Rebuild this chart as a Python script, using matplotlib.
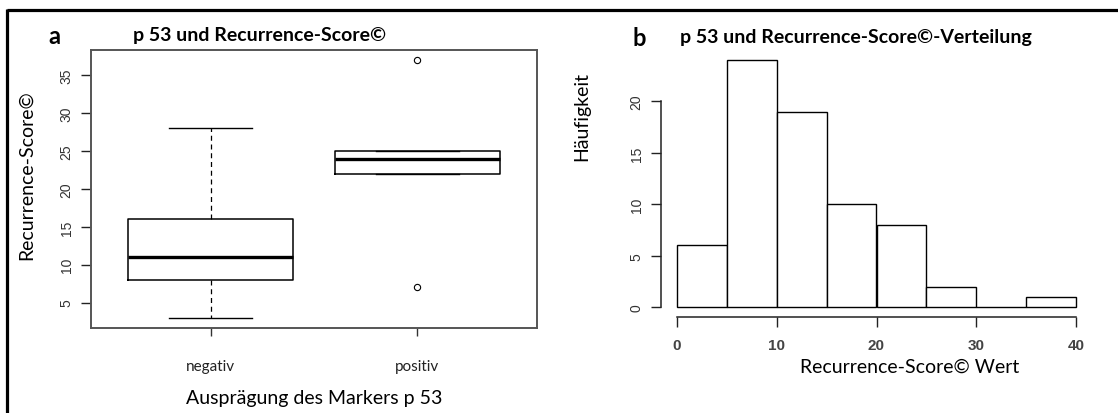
import matplotlib
matplotlib.use("Agg")
import matplotlib.pyplot as plt
from matplotlib.lines import Line2D

W, H = 1118, 414
DPI = 100

# ---- data ----
groups = ["negativ", "positiv"]
q1 = [8, 22]
med = [11, 24]
q3 = [16, 25]
whislo = [3, 22]
whishi = [28, 25]
fliers = [[], [7, 37]]
box_yticks = [5, 10, 15, 20, 25, 30, 35]

bin_edges = [0, 5, 10, 15, 20, 25, 30, 35, 40]
counts = [6, 24, 19, 10, 8, 2, 0, 1]
hist_xticks = [0, 10, 20, 30, 40]
hist_yticks = [0, 5, 10, 15, 20]

title_a = "p 53 und Recurrence-Score©"
title_b = "p 53 und Recurrence-Score©-Verteilung"
ylabel_a = "Recurrence-Score©"
xlabel_a = "Ausprägung des Markers p 53"
ylabel_b = "Häufigkeit"
xlabel_b = "Recurrence-Score© Wert"

CAL = ["Lato", "DejaVu Sans"]
ARI = ["Liberation Sans", "DejaVu Sans"]

fig = plt.figure(figsize=(W / DPI, H / DPI), dpi=DPI)

def px_axes(x0, y0, x1, y1):
    return fig.add_axes([x0 / W, 1 - y1 / H, (x1 - x0) / W, (y1 - y0) / H])

def ftext(x, y, s, **kw):
    fig.text(x / W, 1 - y / H, s, **kw)

# outer frame (top + left)
fig.add_artist(Line2D([7 / W, 1.0], [1 - 10.5 / H, 1 - 10.5 / H], transform=fig.transFigure,
                      color="black", lw=2.3, solid_capstyle="butt"))
fig.add_artist(Line2D([7 / W, 7 / W], [1 - 9.5 / H, 0], transform=fig.transFigure,
                      color="black", lw=2.3, solid_capstyle="butt"))

# ---- panel a: boxplot ----
axa = px_axes(91, 51, 537, 329)
stats = []
for i in range(len(groups)):
    stats.append(dict(q1=q1[i], med=med[i], q3=q3[i], whislo=whislo[i],
                      whishi=whishi[i], fliers=fliers[i], label=groups[i]))
axa.bxp(stats, positions=[1, 2], widths=0.8, showfliers=True, capwidths=0.4,
        boxprops=dict(color="black", lw=1.1),
        medianprops=dict(color="black", lw=2.4, solid_capstyle="butt"),
        whiskerprops=dict(color="black", lw=0.9, ls=(0, (4, 3))),
        capprops=dict(color="black", lw=1.0),
        flierprops=dict(marker="o", markerfacecolor="none", markeredgecolor="black",
                        markersize=4.5, markeredgewidth=0.8))
axa.set_xlim(0.42, 2.58)
axa.set_ylim(1.64, 38.36)
for sp in axa.spines.values():
    sp.set_color("#555555")
    sp.set_linewidth(1.4)
axa.set_yticks(box_yticks)
axa.set_yticklabels([str(v) for v in box_yticks], rotation=90, va="center",
                    fontsize=10, color="#333333", family=ARI)
axa.tick_params(axis="y", length=7.5, width=1.0, color="#222222", pad=5)
axa.set_xticks([1, 2])
axa.set_xticklabels(groups, fontsize=11, family=CAL, color="#222222")
axa.tick_params(axis="x", length=6, width=1.0, color="#333333", pad=16)

ftext(54, 37, "a", fontsize=17, fontweight="bold", family=CAL, ha="center", va="center")
ftext(260, 36, title_a, fontsize=14, fontweight="bold", family=CAL, ha="center", va="center")
ftext(26, 175, ylabel_a, fontsize=14, family=CAL, rotation=90, ha="center", va="center")
ftext(314, 399, xlabel_a, fontsize=14, family=CAL, ha="center", va="center")

# ---- panel b: histogram ----
axb = px_axes(661, 51.5, 1092, 318)
axb.bar(bin_edges[:-1], counts, width=5, align="edge", facecolor="white",
        edgecolor="black", linewidth=1.0)
axb.set_xlim(-1.6, 41.6)
axb.set_ylim(-0.96, 24.96)
axb.spines["top"].set_visible(False)
axb.spines["right"].set_visible(False)
axb.spines["left"].set_bounds(0, 20)
axb.spines["bottom"].set_bounds(0, 40)
for s in ("left", "bottom"):
    axb.spines[s].set_color("#222222")
    axb.spines[s].set_linewidth(1.1)
axb.set_yticks(hist_yticks)
axb.set_yticklabels([str(v) for v in hist_yticks], rotation=90, va="center",
                    fontsize=10, color="#333333", family=ARI)
axb.tick_params(axis="y", length=7.5, width=1.0, color="#222222", pad=5)
axb.set_xticks(hist_xticks)
axb.set_xticklabels([str(v) for v in hist_xticks], fontsize=11, color="#444444",
                    family=ARI, fontweight="bold")
axb.tick_params(axis="x", length=7, width=1.0, color="#222222", pad=8)

ftext(639, 38, "b", fontsize=17, fontweight="bold", family=CAL, ha="center", va="center")
ftext(856, 37, title_b, fontsize=14, fontweight="bold", family=CAL, ha="center", va="center")
ftext(582, 117, ylabel_b, fontsize=14, family=CAL, rotation=90, ha="center", va="center")
ftext(910, 367, xlabel_b, fontsize=14, family=CAL, ha="center", va="center")

fig.savefig("out.png", dpi=DPI)
